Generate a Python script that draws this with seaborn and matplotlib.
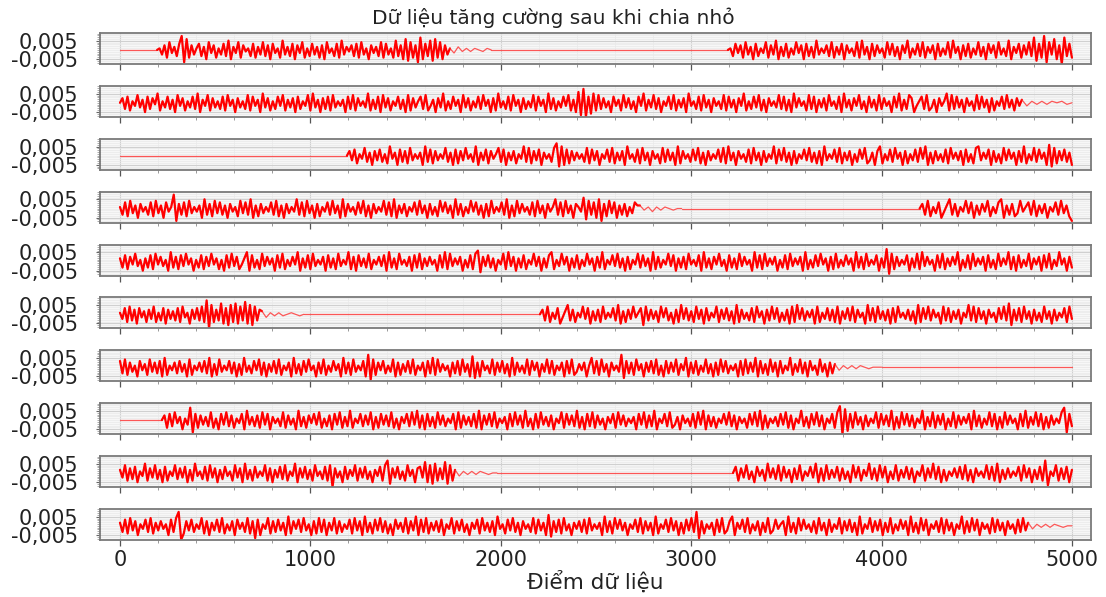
import numpy as np
import pandas as pd
import matplotlib
matplotlib.use("Agg")
import matplotlib.pyplot as plt
import seaborn as sns
from matplotlib.ticker import MultipleLocator, FuncFormatter

# ---------------- data ----------------
# amplitude levels: A=-9 ... J=0 ... S=+9 steps of LEVEL_STEP
LEVELS = "ABCDEFGHIJKLMNOPQRS"
LEVEL_STEP = 0.00085
TITLE = "Dữ liệu tăng cường sau khi chia nhỏ"
XLABEL = "Điểm dữ liệu"
X_TICKS = [0, 1000, 2000, 3000, 4000, 5000]
Y_TICKS = [-0.005, 0.005]

# each row: list of (start_sample, end_sample, kind, amplitude string); kind a=active, q=quiet
row1 = [(0, 195, "q", "JJ"),
        (195, 1733, "a", "JKGMEOHLFNSBQEMGKNFLD" "OHMEKGNFPDLHOEMIKFNE" "LGOFMDNHKEPGLFNDMHOE"
                         "KFNGLEMDOHKFNEPGLIMF" "NEOGKDMHLFOENGKEPFMD" "QCOEMBRDNFPCQEODMGK"),
        (1733, 1950, "q", "KHLIKIKJIKJ"),
        (1950, 3193, "q", "JJ"),
        (3193, 5000, "a", "JKFNHMEOGLDNFKHOEMGPD" "LFNEKGOHMDNFLEPGKHMF" "OELGNDMHKFOEPGLDNFMH"
                          "KEOGNFLDMHPEKGNFOELH" "MDNFKGOEPHLDMFNEKGOF" "LDNHMEOGKFPDLHNEMGOF" "RCNESBOGQDMARFNE")]
row2 = [(0, 4737, "a", "JMFNEKHOGLDNFMIPEKGN" "FLDOHMEKGNFPDLHOEMGK" "FNEOHLDMGKFOENHLDPGM" "EKFNHOELGMDNFKHOEPGL"
                        "DMFNEOGKHLDNFOEMHKGP" "ELFNDOGMEKHNFLDOEMGK" "NFOEHLDMGPEKFNHLDOGM" "EKGNFOHLDMEPGKFNEOHL"
                        "DMFKGOENHLDPFMEKGNHO" "ELDQBSANCPEOFMGKDNHL" "EOGMFKDNHPELGOFMDKHN" "FOELGMDPHKFNEOGLDMHK"
                        "FOENGLDMHPEKFNGOELDM" "HKGOFNELDPGMHKEOFNDL" "GMEOHKFNDPGLEMHOFKDN" "GLEOFMHKDNGPELFOMDHK"
                        "NFOEGLDMHKPEOFNGLDMH" "KEOFNGLDMEKHNFOGLEMHL"),
        (4737, 5000, "q", "LHKIKIKJKIJ")]
row3 = [(0, 1192, "q", "JJ"),
        (1192, 5000, "a", "JMGNEKHOFLDMGNFKEPHL" "DNFMEOGKHLDPFNEMGKHO" "FLDNEMGOHKFPDLGNEMHK" "OFNDLGMEKHPFOEMGNDLH"
                           "KFORCPDNEMGLHKFOENGM" "DKHNFOELGMDPHKFNEOGL" "DMHKEOFNGLDPEMHKFNGO" "ELDMGKHNFOEPGLDMHKFN"
                           "EOGLDMFKHPENGOFLDMEK" "HNGOFLEMDPGKHNFOELGM" "DKFNHOEGLDMPEKGNFOHL" "DMEKGNFOHPDLEMGKFNEO"
                           "HLGMDNFKEOPGLHNDMFKE" "OGNHLDMFPEKGOFNHLDQC" "OEMGNFLD")]
row4 = [(0, 2731, "a", "KFNEOGLDMHKFNEOGLDNH" "KSBMFNEOGKHLDPFMEOGN" "FLDMHKEOGNFPDLEMGKHN" "FOELDMGKHPFNEOGLDMEK"
                        "HNFOGLDPEMHKFNGOELDM" "GKHOFNEPDLGMEKHNFOGL" "DMFKEOHNGLDPFMEKGOHN" "FLDMEOGKHNFPDLEOGMHK"
                        "FNEOGLDMHKPFNEOGLDMK" "HQCOFNDPBMEOGNDLF" "MEKGNLL"),
        (2731, 2950, "q", "LIKHKIKJIJJ"),
        (2950, 4200, "q", "JJ"),
        (4200, 5000, "a", "JMFOEKGNDHLPFMEKHOGN" "DLFMHOEKGNPDLFMEGOHK" "NFOELGMDKHNFOGLEB")]
row5 = [(0, 5000, "a", "LFNEMHOGKDLFNEOHMGKD" "PFMENGOHLDKFNEMGOHLE" "KDNFOGMEHLPDNFKEOGMH" "LDNFOEKGMHPDLFNEOGKH"
                        "MDNFLEOGKHPEMDNGLFOE" "KHMGNDPFLEOHKGMDNFOE" "LGMHKDNFPEOGLHMDKFNE" "OQCMGNFLDKHOEPGMDLFN"
                        "EKHOGMDLFNPEKGOHMDLF" "NEKGOHLDMFPEKHNGOFLD" "MEKHOFNGLDPEMFKHOGND" "LFMEOHKGNDPFLEMHOGKD"
                        "NFLEOGMHKDPFNEOGLHMD" "KFNEOGLHMDPEKFNGOHLD" "MEOFKGNHLDPFMEOGKHND" "LFRBOEMGKHNDLFOEPGMH"
                        "KDNFOELGMHPDKFNEOGLH" "MDNFKEOGLHPEMDNFKGOE" "LHMDNFOEKGPHLDMF")]
row6 = [(0, 746, "a", "KGNEOFMDNHLEMGOEKFND" "MGLFNEOHKDMGNFOESAPE" "MFQDNCPEQDOFRDPCOFML"),
        (746, 966, "q", "LHKIKIJKJIJ"),
        (966, 2206, "q", "JJ"),
        (2206, 5000, "a", "JMFOEKGNDHLPFMEKHOGN" "DLFMEOGKHNFPDLEMGOHK" "NCOFMGLEOHNFKDMEPGNF" "LEOGMDNFKHOEMGNFLDPE"
                           "MGKFNEOHLDMFOGNEKFMD" "OEPGNFLHMDOEKGNFMEOD" "LGNFOEMHKDPFNEOGLFMD" "NEOHKGMFLDPENGOFMHKD"
                           "OFNELGMDKHPFOENGLDMH" "KENGOFQCMFNEOGLDMFKE" "OGLDMFKHNEOG")]
row7 = [(0, 3755, "a", "NFOEMGKDNHLEOGMFNDPE" "KHMFNGLDOEKHMGNFPDLE" "OGKHNFMDLEPGKFNHOEMD" "LGNFOEKHMDPFLENGOHKD"
                        "MFOEKGNHLDPFMEOGKHND" "RBOEMHNFKGODMELGNFOE" "KHMDNFPEOGLHKDMFNEOG" "LDQCMDNHKFOEMGNFLDPE"
                        "MGKFOENHMDLGOFNEKHMD" "NFOEGLHMDKPFNEOGLDMH" "KGRCNFMEOHLDMGNFOEKD" "NFMGOELHPDMFNEKGOFLD"
                        "MEOGNFKHLDNEOFMGPDNF" "LEOGMDNFKHPELGOFMDNH" "KEOGLDMFL"),
        (3755, 4000, "q", "LHKIKIKJIJJJ"),
        (4000, 5000, "q", "JJ")]
row8 = [(0, 220, "q", "JJ"),
        (220, 5000, "a", "JMENFOHLDKGRBNEMGLFO" "EKDNGOFMEKHNDPGLFMEO" "GNDLHKFOEMGKDPFLEMHN" "GOEKFMDNGOELFPEKHNFM"
                          "GODLENGMFOEKDLHNFOGP" "EMDNFLEOGMFKHNDOEMGL" "FNEPDMGNFOEKHLDNFOGM" "EPFKDNEOGLFMDKHOENGM"
                          "FPELDNFOEMGKDLHNEOGM" "FKHLDNGOEMFPDKHNFOEG" "LDMHKFNEOGPDMFLEKHNG" "OFMDLHKENGOFPDMEKHLF"
                          "NGOEMDKHPFLENGOFMDKH" "NEOSAQCNEOGLDMFKHOEN" "GMFPDLEOGNFMEKHPDLFO" "EMGNDKFOEMGLHNDPFMEK"
                          "GOFNDLEOGMHKDNFPELGO" "FNDLEMGKHORBNF")]
row9 = [(0, 1760, "a", "LGOEMFNDKHPEMGOFLDNE" "KHOFMGNDLEPHKFNEOGMD" "LFNHKEOGMDPFLENGKHOE" "MDLGNFOEKHPDMGNFLEOH"
                        "KFNEOAMGKDNFLHOEMGNF" "KDLHNEORCMGNFKEOHLDM" "NGQDOCPEMFQCOEL"),
        (1760, 1980, "q", "LHKIKIKJIJJ"),
        (1980, 3220, "q", "JJ"),
        (3220, 5000, "a", "JNEMGOFKDNHLEPGMFOEN" "GLDMFOEKHNGPDMEOFLGN" "EMFKDOGNELHPFMEOGNDK" "FOELGNFMDKHOEMGPFNDL"
                           "EKHMGNFOELDMHKGOFNEP" "DLFMGKHNEOGMDLFNERBK" "HOEMFNDL")]
row10 = [(0, 4770, "a", "LFNEOGMDKHNFOELGMHKD" "NFOSAEMGNFKHOEMDLGNF" "OEKGMDNHLFOEMBNDKHOE" "MFNGLDPEMHNFOGKDMEOF"
                         "NDLGOEMFKHNEOGMDPFLE" "NGOFMEKDNHLFOEMGPDNF" "OELGMFNDKHOEMGNFKDLH" "NEOGLFMDPHKENGOFLDMH"
                         "KFOENGLDQCMFNEOGKDLH" "MFNEOGKHLDPFMEOHNGLD" "KHNFOEMGLDPEKHNFOGMD" "LENGOFSBMEKHLDNFOEGM"
                         "PDLHNFOEKGMDLFOEGNHK" "MDPFLEOGNHKFMEOGLDNF" "KHOEMGNFLDPEKHOFMGND" "LFOEKGNHMDPFLEOGNDKH"
                         "MFOENGLDKHPEMFOGNDLH" "KEOFNGLDMHKENFOGL"),
         (4770, 5000, "q", "LHKIKIKJIJJ")]
ROWS = [row1, row2, row3, row4, row5, row6, row7, row8, row9, row10]


def decode(start, end, s):
    return pd.DataFrame({"x": np.linspace(start, end, len(s)),
                         "y": [(LEVELS.index(c) - 9) * LEVEL_STEP for c in s]})


# ---------------- style ----------------
sns.set_theme(style="white")
plt.rcParams["font.family"] = ["DejaVu Sans"]

STYLE = {"a": dict(color="#ff0000", linewidth=1.6),
         "q": dict(color="#ff3030", linewidth=0.9, alpha=0.8)}

fig, axes = plt.subplots(len(ROWS), 1, figsize=(11.06, 5.97), dpi=100, sharex=True)
fig.subplots_adjust(left=0.0904, right=0.9864, top=0.9447, bottom=0.0955, hspace=0.70)

fmt = FuncFormatter(lambda v, p: f"{v:.3f}".replace(".", ",").replace("\u2212", "-"))

for ax, segs in zip(axes, ROWS):
    for start, end, kind, s in segs:
        df = decode(start, end, s)
        sns.lineplot(data=df, x="x", y="y", ax=ax, estimator=None, sort=False, **STYLE[kind])
    ax.set_xlim(-105, 5100)
    ax.set_ylim(-0.0078, 0.0093)
    ax.set_facecolor("#f7f7f7")
    ax.xaxis.set_major_locator(MultipleLocator(1000))
    ax.xaxis.set_minor_locator(MultipleLocator(200))
    ax.set_yticks(Y_TICKS)
    ax.yaxis.set_minor_locator(MultipleLocator(0.001))
    ax.yaxis.set_major_formatter(fmt)
    ax.grid(which="major", color="#d0d0d0", linewidth=0.8)
    ax.grid(which="minor", color="#e9e9e9", linewidth=0.5)
    ax.set_axisbelow(True)
    for sp in ax.spines.values():
        sp.set_color("#7a7a7a")
        sp.set_linewidth(1.3)
    ax.tick_params(axis="y", which="major", left=True, length=3, width=0.8, color="#666666",
                   labelsize=15, pad=12.5, labelcolor="#222222")
    ax.tick_params(axis="y", which="minor", left=True, length=2, width=0.5, color="#888888")
    ax.tick_params(axis="x", which="major", bottom=True, length=4, width=0.9, color="#555555",
                   labelsize=15, pad=3, labelcolor="#222222")
    ax.tick_params(axis="x", which="minor", bottom=True, length=2, width=0.6, color="#888888")
    ax.set_xlabel("")
    ax.set_ylabel("")

axes[-1].set_xticks(X_TICKS)
axes[-1].set_xlabel(XLABEL, fontsize=15.5, color="#222222", labelpad=1)
fig.suptitle(TITLE, fontsize=14.5, color="#222222", y=0.970, va="center")

fig.savefig("out.png", dpi=100)
